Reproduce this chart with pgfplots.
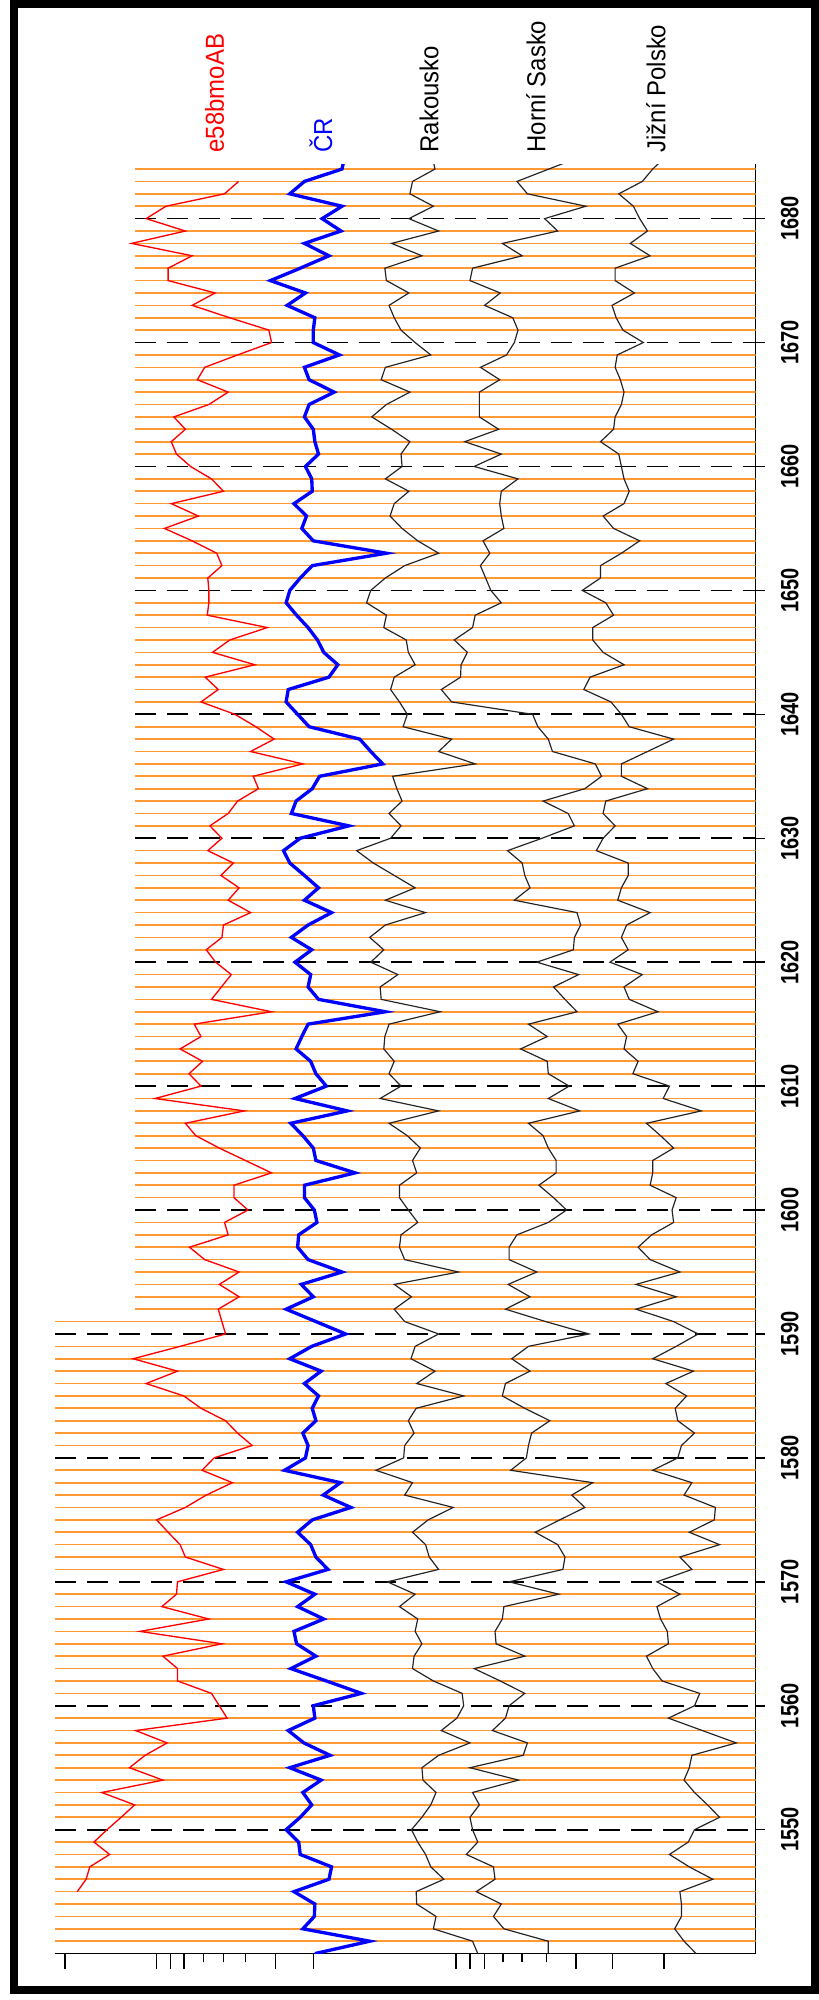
\documentclass[border=0pt]{standalone}
\usepackage{pgfplots}
\pgfplotsset{compat=1.18}
\usepackage{pgfplotstable}
\usepackage{fontspec}
\setmainfont{Liberation Sans}
\newfontfamily\labelfont[FakeStretch=0.92]{Liberation Sans}
\newfontfamily\yearfont[FakeStretch=0.8]{Liberation Sans}
\definecolor{gridorange}{RGB}{255,153,51}
\definecolor{serblack}{RGB}{35,35,35}
\definecolor{serred}{RGB}{255,0,0}
\definecolor{serblue}{RGB}{0,0,255}

\pgfplotstableread{
year red blue rak hor jiz
1540 nan 603 915 1050 1333
1541 nan 708 905 1050 1310
1542 nan 580 830 965 1292
1543 nan 602 835 945 1305
1544 nan 603 798 960 1305
1545 148 563 797 912 1302
1546 165 630 850 948 1365
1547 172 635 825 945 1320
1548 210 575 815 893 1282
1549 180 572 800 915 1318
1550 205 548 788 905 1330
1551 232 575 808 900 1378
1552 258 597 825 918 1355
1553 195 580 835 905 1330
1554 312 615 810 993 1310
1555 248 555 808 900 1320
1556 278 632 840 1002 1325
1557 320 582 900 1010 1410
1558 260 552 845 943 1345
1559 435 603 875 968 1280
1560 420 600 888 975 1330
1561 405 692 885 1005 1340
1562 340 625 830 958 1268
1563 340 557 790 908 1250
1564 312 605 793 1005 1238
1565 425 568 808 950 1280
1566 268 563 795 948 1278
1567 400 620 800 962 1265
1568 310 570 765 965 1258
1569 338 603 795 1070 1302
1570 340 548 742 975 1258
1571 428 628 840 1078 1325
1572 355 605 822 1082 1302
1573 345 595 815 1068 1378
1574 322 570 790 1025 1320
1575 300 598 820 1072 1368
1576 355 672 868 1120 1370
1577 395 619 775 1095 1310
1578 445 652 790 1135 1325
1579 387 545 720 978 1250
1580 410 585 773 1008 1298
1581 483 590 775 1012 1305
1582 455 580 793 1018 1330
1583 432 605 782 1053 1298
1584 385 598 797 1005 1293
1585 352 610 888 962 1315
1586 280 583 798 968 1275
1587 340 615 833 1015 1328
1588 255 555 787 980 1250
1589 345 597 795 1012 1295
1590 432 662 840 1128 1337
1591 425 605 775 1045 1290
1592 418 548 755 968 1218
1593 458 600 788 1015 1295
1594 420 577 755 973 1218
1595 458 655 878 1028 1302
1596 392 590 775 975 1245
1597 363 570 765 975 1222
1598 437 572 768 990 1248
1599 430 607 800 1050 1290
1600 475 602 782 1085 1287
1601 448 583 765 1060 1295
1602 448 583 765 1032 1245
1603 520 680 798 1065 1250
1604 470 605 790 1065 1250
1605 420 600 805 1050 1290
1606 375 580 780 1040 1265
1607 355 557 745 1012 1238
1608 468 665 840 1110 1343
1609 297 565 728 1050 1270
1610 385 625 768 1090 1282
1611 362 605 745 1050 1212
1612 388 595 755 1048 1222
1613 345 567 735 997 1195
1614 385 578 737 1048 1200
1615 372 590 745 1012 1183
1616 520 738 843 1105 1260
1617 405 610 730 1082 1205
1618 424 590 728 1060 1195
1619 443 595 762 1108 1230
1620 413 565 710 1028 1168
1621 395 597 735 1098 1203
1622 425 558 708 1100 1190
1623 428 590 738 1112 1200
1624 480 635 815 1105 1245
1625 437 583 738 985 1183
1626 458 610 795 1015 1190
1627 423 583 755 1005 1203
1628 447 555 715 1000 1203
1629 398 543 683 972 1142
1630 425 575 748 1038 1155
1631 402 668 768 1100 1178
1632 437 558 745 1088 1155
1633 455 567 770 1040 1160
1634 495 598 760 1120 1240
1635 485 612 752 1152 1190
1636 580 733 910 1140 1190
1637 480 710 840 1058 1240
1638 525 689 865 1050 1290
1639 490 592 772 1030 1205
1640 450 570 780 1020 1190
1641 385 548 765 865 1170
1642 418 552 748 845 1118
1643 393 630 755 882 1130
1644 488 647 795 883 1195
1645 407 620 782 895 1155
1646 440 608 778 870 1135
1647 512 590 735 905 1135
1648 397 568 740 910 1175
1649 400 548 702 960 1160
1650 400 555 710 940 1115
1651 398 575 738 930 1150
1652 425 598 775 920 1150
1653 415 740 840 938 1190
1654 368 600 800 925 1225
1655 315 578 770 965 1175
1656 380 587 747 960 1155
1657 328 563 755 957 1195
1658 428 598 783 960 1205
1659 405 597 738 992 1195
1660 365 585 770 908 1190
1661 338 610 768 960 1185
1662 328 603 785 890 1150
1663 355 600 750 955 1175
1664 333 583 712 918 1178
1665 400 592 740 918 1190
1666 437 640 785 918 1195
1667 378 592 730 957 1188
1668 392 583 738 920 1178
1669 455 650 825 970 1182
1670 520 600 795 985 1232
1671 515 600 768 992 1193
1672 440 603 755 982 1180
1673 368 550 745 928 1172
1674 412 585 783 958 1215
1675 322 518 740 900 1178
1676 322 575 737 905 1178
1677 368 630 808 1000 1245
1678 252 583 750 962 1207
1679 355 653 840 1068 1240
1680 280 617 783 1043 1225
1681 318 655 830 1122 1213
1682 430 555 785 1010 1185
1683 457 583 790 990 1230
1684 nan 655 833 1051 1250
1685 nan 660 828 1112 1275
}\data

\begin{document}
\begin{tikzpicture}[x=0.3pt,y=-0.3pt]
\useasboundingbox (0,0) rectangle (819,2000);
\fill[white] (0,0) rectangle (819,2000);
\draw[line width=2.5pt] (14,3.5) rectangle (815,1990);
\begin{axis}[
  at={(16.44pt,-586.08pt)}, anchor=south west,
  scale only axis, width=210.24pt, height=536.85pt,
  xmin=105, xmax=1447, ymin=1540, ymax=1684.4,
  axis x line*=bottom, axis y line*=right,
  axis line style={line width=0.45pt, black},
  clip mode=individual,
  tick align=outside,
  every tick/.style={black, line width=0.45pt},
  major tick length=2.8pt,
  minor tick length=2.6pt,
  xtick={300,327,352,873,900,928},
  xtick style={/pgfplots/major tick length=4.5pt},
  minor xtick={390,428,470,963,1000,1047},
  extra x ticks={125,528,600,1103,1173,1272},
  extra x tick labels={},
  extra x tick style={/pgfplots/major tick length=1.4pt},
  xticklabels={},
  ytick={1550,1560,...,1680},
  /pgf/number format/1000 sep={},
  /pgf/number format/assume math mode=true,
  yticklabel style={rotate=90, anchor=north, inner sep=0pt,
    font=\yearfont\bfseries\fontsize{7.5}{8}\selectfont},
  yticklabel shift=4.6pt,
]
% orange year lines, lower block (1541-1591)
\pgfplotsinvokeforeach{1541,...,1549}{\addplot[gridorange, line width=0.5pt] coordinates {(105,#1) (1447,#1)};}
\pgfplotsinvokeforeach{1551,...,1559}{\addplot[gridorange, line width=0.5pt] coordinates {(105,#1) (1447,#1)};}
\pgfplotsinvokeforeach{1561,...,1569}{\addplot[gridorange, line width=0.5pt] coordinates {(105,#1) (1447,#1)};}
\pgfplotsinvokeforeach{1571,...,1579}{\addplot[gridorange, line width=0.5pt] coordinates {(105,#1) (1447,#1)};}
\pgfplotsinvokeforeach{1581,...,1589}{\addplot[gridorange, line width=0.5pt] coordinates {(105,#1) (1447,#1)};}
\addplot[gridorange, line width=0.5pt] coordinates {(105,1591) (1447,1591)};
% orange year lines, upper block (1592-1684)
\pgfplotsinvokeforeach{1592,...,1599}{\addplot[gridorange, line width=0.5pt] coordinates {(258,#1) (1447,#1)};}
\pgfplotsinvokeforeach{1601,...,1609}{\addplot[gridorange, line width=0.5pt] coordinates {(258,#1) (1447,#1)};}
\pgfplotsinvokeforeach{1611,...,1619}{\addplot[gridorange, line width=0.5pt] coordinates {(258,#1) (1447,#1)};}
\pgfplotsinvokeforeach{1621,...,1629}{\addplot[gridorange, line width=0.5pt] coordinates {(258,#1) (1447,#1)};}
\pgfplotsinvokeforeach{1631,...,1639}{\addplot[gridorange, line width=0.5pt] coordinates {(258,#1) (1447,#1)};}
\pgfplotsinvokeforeach{1641,...,1649}{\addplot[gridorange, line width=0.5pt] coordinates {(258,#1) (1447,#1)};}
\pgfplotsinvokeforeach{1651,...,1659}{\addplot[gridorange, line width=0.5pt] coordinates {(258,#1) (1447,#1)};}
\pgfplotsinvokeforeach{1661,...,1669}{\addplot[gridorange, line width=0.5pt] coordinates {(258,#1) (1447,#1)};}
\pgfplotsinvokeforeach{1671,...,1679}{\addplot[gridorange, line width=0.5pt] coordinates {(258,#1) (1447,#1)};}
\pgfplotsinvokeforeach{1681,...,1684}{\addplot[gridorange, line width=0.5pt] coordinates {(258,#1) (1447,#1)};}
% dashed decade lines
\pgfplotsinvokeforeach{1550,1560,1570,1580,1590}{
  \addplot[black, line width=0.5pt, dash pattern=on 6.3pt off 3.3pt] coordinates {(105,#1) (1447,#1)};
}
\pgfplotsinvokeforeach{1600,1610,1620,1630,1640,1650,1660,1670,1680}{
  \addplot[black, line width=0.5pt, dash pattern=on 6.3pt off 3.3pt] coordinates {(258,#1) (1447,#1)};
}
\addplot[serred, line width=0.4pt] table[x=red, y=year] {\data};
\addplot[serblue, line width=1.0pt] table[x=blue, y=year] {\data};
\addplot[serblack, line width=0.35pt] table[x=rak, y=year] {\data};
\addplot[serblack, line width=0.35pt] table[x=hor, y=year] {\data};
\addplot[serblack, line width=0.35pt] table[x=jiz, y=year] {\data};
\end{axis}
\begin{scope}[every node/.style={rotate=90, anchor=west, inner sep=0pt, font=\labelfont\fontsize{7.8}{10}\selectfont}]
\node[text=serred] at (214.5,153) {e58bmoAB};
\node[text=serblue] at (321,153) {ČR};
\node[text=black] at (429,153) {Rakousko};
\node[text=black] at (536,153) {Horní Sasko};
\node[text=black] at (656,153) {Jižní Polsko};
\end{scope}
\end{tikzpicture}
\end{document}
